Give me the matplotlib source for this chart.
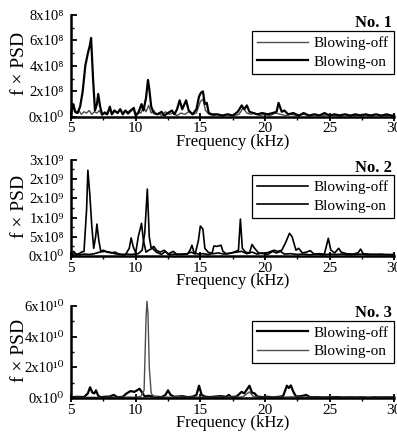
import numpy as np
import matplotlib
matplotlib.use('Agg')
import matplotlib.pyplot as plt
from matplotlib.ticker import MultipleLocator

plt.rcParams['font.family'] = ['Liberation Serif', 'DejaVu Serif']

# 数据 (频率 kHz, 幅值)
# No.1, 单位 1e8
f1_off = [5.0, 5.2, 5.4, 5.6, 5.8, 6.0, 6.2, 6.4, 6.6, 6.8, 7.0, 7.2, 7.4, 7.6, 7.8, 8.0, 8.2, 8.4, 8.6, 8.8,
          9.0, 9.2, 9.4, 9.6, 9.8, 10.0, 10.2, 10.4, 10.6, 10.8, 11.0, 11.2, 11.4, 11.6, 11.8, 12.0, 12.3, 12.6,
          12.9, 13.2, 13.5, 13.8, 14.1, 14.4, 14.7, 15.0, 15.2, 15.4, 15.7, 16.0, 16.4, 16.8, 17.2, 17.6, 18.0,
          18.3, 18.6, 18.9, 19.2, 19.6, 20.0, 20.4, 20.8, 21.2, 21.6, 22.0, 22.5, 23.0, 23.5, 24.0, 24.5, 25.0,
          25.5, 26.0, 26.5, 27.0, 27.5, 28.0, 28.5, 29.0, 29.5, 30.0]
p1_off = [0.5, 1.0, 0.3, 0.5, 0.2, 0.4, 0.3, 0.5, 0.2, 0.4, 0.3, 0.5, 0.1, 0.4, 0.3, 0.6, 0.2, 0.5, 0.3, 0.6,
          0.3, 0.5, 0.2, 0.4, 0.6, 0.2, 0.4, 0.3, 0.8, 0.4, 0.9, 0.3, 0.5, 0.2, 0.3, 0.1, 0.4, 0.2,
          0.3, 0.1, 0.3, 0.2, 0.4, 0.2, 0.3, 1.2, 1.4, 0.5, 0.2, 0.1, 0.2, 0.1, 0.2, 0.1, 0.2,
          0.7, 0.3, 0.2, 0.3, 0.1, 0.2, 0.1, 0.3, 0.2, 0.1, 0.2, 0.1, 0.2, 0.1, 0.2, 0.1, 0.2,
          0.1, 0.2, 0.1, 0.1, 0.2, 0.1, 0.2, 0.1, 0.1, 0.1]
f1_on = [5.0, 5.15, 5.3, 5.5, 5.7, 5.9, 6.1, 6.3, 6.45, 6.55, 6.7, 6.85, 7.0, 7.1, 7.25, 7.4, 7.6, 7.8, 8.0,
         8.15, 8.35, 8.6, 8.8, 9.0, 9.2, 9.4, 9.6, 9.85, 10.0, 10.2, 10.45, 10.6, 10.8, 10.95, 11.05, 11.2,
         11.4, 11.7, 12.0, 12.2, 12.5, 12.8, 13.0, 13.2, 13.4, 13.6, 13.9, 14.1, 14.4, 14.7, 14.9, 15.05,
         15.2, 15.35, 15.5, 15.65, 15.9, 16.3, 16.7, 17.1, 17.5, 17.9, 18.2, 18.4, 18.6, 18.8, 19.1, 19.4,
         19.8, 20.2, 20.6, 20.9, 21.05, 21.3, 21.5, 21.8, 22.2, 22.6, 23.0, 23.4, 23.8, 24.2, 24.6, 25.0,
         25.4, 25.8, 26.2, 26.6, 27.0, 27.4, 27.8, 28.2, 28.6, 29.0, 29.4, 29.8, 30.0]
p1_on = [0.3, 1.0, 0.4, 0.3, 0.8, 2.0, 4.0, 5.0, 5.6, 6.2, 3.0, 0.5, 1.0, 1.8, 0.8, 0.2, 0.3, 0.2, 0.8,
         0.2, 0.5, 0.3, 0.6, 0.2, 0.5, 0.3, 0.5, 0.7, 0.1, 0.3, 1.0, 0.5, 1.5, 2.9, 2.2, 0.8,
         0.3, 0.2, 0.4, 0.1, 0.3, 0.5, 0.2, 0.6, 1.3, 0.6, 1.3, 0.5, 0.2, 0.6, 1.6, 1.9,
         2.0, 1.0, 1.1, 0.3, 0.2, 0.2, 0.1, 0.2, 0.1, 0.4, 0.9, 0.6, 0.9, 0.4, 0.3, 0.2,
         0.3, 0.2, 0.3, 0.4, 1.1, 0.4, 0.5, 0.2, 0.3, 0.1, 0.3, 0.1, 0.2, 0.1, 0.3, 0.1,
         0.2, 0.1, 0.2, 0.1, 0.2, 0.1, 0.2, 0.1, 0.2, 0.1, 0.2, 0.1, 0.1]

# No.2, 单位 1e9
f2_off = [5.0, 5.3, 5.6, 6.0, 6.4, 6.8, 7.2, 7.6, 8.0, 8.4, 8.8, 9.2, 9.5, 9.65, 9.8, 10.0, 10.2, 10.45, 10.6,
          10.8, 11.0, 11.3, 11.6, 12.0, 12.3, 12.6, 13.0, 13.5, 14.0, 14.2, 14.35, 14.5, 14.8, 15.2, 15.6,
          15.9, 16.05, 16.3, 16.6, 16.75, 17.0, 17.4, 17.8, 18.2, 18.6, 19.0, 19.4, 19.8, 20.2, 20.6, 20.9,
          21.2, 21.5, 22.0, 22.5, 23.0, 23.5, 24.0, 24.5, 25.0, 25.5, 26.0, 26.5, 27.0, 27.5, 28.0, 28.5,
          29.0, 29.5, 30.0]
p2_off = [0.02, 0.06, 0.03, 0.05, 0.04, 0.06, 0.1, 0.12, 0.1, 0.06, 0.04, 0.03, 0.2, 0.47, 0.25, 0.08, 0.5, 0.85, 0.4,
          0.1, 0.15, 0.2, 0.1, 0.04, 0.12, 0.03, 0.05, 0.04, 0.05, 0.15, 0.28, 0.1, 0.05, 0.06, 0.04,
          0.06, 0.26, 0.25, 0.28, 0.12, 0.06, 0.08, 0.1, 0.12, 0.06, 0.1, 0.05, 0.08, 0.04, 0.12, 0.08,
          0.12, 0.05, 0.06, 0.04, 0.05, 0.03, 0.05, 0.03, 0.05, 0.04, 0.05, 0.03, 0.04, 0.05, 0.03, 0.04,
          0.03, 0.04, 0.03]
f2_on = [5.0, 5.2, 5.4, 5.6, 5.8, 6.0, 6.2, 6.3, 6.45, 6.6, 6.75, 6.9, 7.0, 7.15, 7.3, 7.5, 7.8, 8.1, 8.4,
         8.7, 9.0, 9.3, 9.6, 9.9, 10.2, 10.5, 10.7, 10.9, 11.05, 11.2, 11.4, 11.6, 11.9, 12.2, 12.5, 12.9,
         13.2, 13.6, 14.0, 14.3, 14.6, 14.85, 15.0, 15.2, 15.35, 15.6, 16.0, 16.4, 16.8, 17.2, 17.6, 17.95,
         18.1, 18.25, 18.5, 18.8, 19.0, 19.2, 19.5, 19.9, 20.3, 20.7, 21.0, 21.3, 21.6, 21.9, 22.1, 22.4,
         22.6, 22.9, 23.2, 23.5, 23.8, 24.2, 24.6, 24.9, 25.1, 25.4, 25.7, 25.9, 26.3, 26.8, 27.2, 27.4,
         27.6, 28.0, 28.5, 29.0, 29.5, 30.0]
p2_on = [0.05, 0.12, 0.04, 0.06, 0.1, 0.12, 1.2, 2.23, 1.6, 0.8, 0.2, 0.5, 0.83, 0.4, 0.12, 0.15, 0.1, 0.08, 0.1,
         0.05, 0.04, 0.05, 0.04, 0.05, 0.06, 0.15, 0.6, 1.74, 0.5, 0.2, 0.25, 0.15, 0.1, 0.15, 0.05, 0.12,
         0.04, 0.05, 0.06, 0.1, 0.05, 0.4, 0.78, 0.7, 0.2, 0.1, 0.06, 0.08, 0.05, 0.06, 0.1, 0.15,
         0.96, 0.2, 0.1, 0.08, 0.3, 0.2, 0.08, 0.06, 0.1, 0.15, 0.12, 0.15, 0.35, 0.59, 0.5, 0.15,
         0.2, 0.08, 0.1, 0.14, 0.05, 0.06, 0.05, 0.46, 0.15, 0.08, 0.2, 0.1, 0.06, 0.05, 0.08, 0.18,
         0.06, 0.05, 0.04, 0.05, 0.03, 0.04]

# No.3, 单位 1e10
f3_off = [5.0, 5.5, 6.0, 6.3, 6.47, 6.65, 6.8, 6.93, 7.1, 7.3, 7.6, 8.0, 8.3, 8.6, 9.0, 9.3, 9.6, 9.9, 10.1,
          10.3, 10.5, 10.7, 11.0, 11.3, 11.6, 12.0, 12.3, 12.5, 12.7, 13.0, 13.3, 13.6, 14.0, 14.4, 14.7,
          14.9, 15.1, 15.4, 15.8, 16.2, 16.6, 17.0, 17.2, 17.4, 17.8, 18.0, 18.2, 18.4, 18.6, 18.8, 19.0,
          19.2, 19.4, 19.8, 20.2, 20.6, 21.0, 21.4, 21.7, 21.85, 22.0, 22.2, 22.4, 22.8, 23.2, 23.5, 24.0,
          24.5, 25.0, 25.5, 26.0, 26.5, 27.0, 27.5, 28.0, 28.5, 29.0, 29.5, 30.0]
p3_off = [0.05, 0.08, 0.06, 0.3, 0.7, 0.35, 0.3, 0.5, 0.15, 0.05, 0.08, 0.1, 0.2, 0.05, 0.08, 0.3, 0.45, 0.4, 0.5,
          0.6, 0.35, 0.1, 0.15, 0.1, 0.08, 0.06, 0.2, 0.5, 0.2, 0.08, 0.1, 0.12, 0.06, 0.08, 0.2,
          0.8, 0.2, 0.08, 0.06, 0.1, 0.12, 0.08, 0.2, 0.06, 0.1, 0.25, 0.4, 0.3, 0.55, 0.8, 0.35,
          0.3, 0.1, 0.06, 0.08, 0.05, 0.07, 0.12, 0.8, 0.65, 0.82, 0.4, 0.1, 0.12, 0.2, 0.05, 0.06,
          0.04, 0.05, 0.06, 0.04, 0.05, 0.04, 0.05, 0.03, 0.05, 0.04, 0.05, 0.04]
f3_on = [5.0, 5.5, 6.0, 6.5, 7.0, 7.5, 8.0, 8.5, 9.0, 9.5, 10.0, 10.4, 10.65, 10.8, 10.87, 10.95, 11.05, 11.2,
         11.4, 11.8, 12.3, 12.8, 13.3, 13.8, 14.3, 14.8, 15.3, 15.8, 16.3, 16.8, 17.3, 17.8, 18.3, 18.8,
         19.1, 19.6, 20.1, 20.6, 21.1, 21.6, 22.1, 22.6, 23.1, 23.6, 24.1, 24.6, 25.1, 25.6, 26.1, 26.6,
         27.1, 27.6, 28.1, 28.6, 29.1, 29.6, 30.0]
p3_on = [0.02, 0.05, 0.03, 0.05, 0.04, 0.03, 0.05, 0.04, 0.05, 0.06, 0.05, 0.1, 0.5, 5.2, 6.3, 5.5, 2.0, 0.3,
         0.1, 0.05, 0.06, 0.05, 0.08, 0.04, 0.05, 0.06, 0.05, 0.04, 0.06, 0.05, 0.06, 0.05, 0.08, 0.4,
         0.1, 0.05, 0.04, 0.06, 0.05, 0.06, 0.08, 0.05, 0.06, 0.04, 0.05, 0.04, 0.05, 0.03, 0.05, 0.04,
         0.03, 0.05, 0.03, 0.04, 0.03, 0.04, 0.03]

# y 轴刻度
yt1 = [0, 2e8, 4e8, 6e8, 8e8]
yl1 = ['0x10⁰', '2x10⁸', '4x10⁸', '6x10⁸', '8x10⁸']
yt2 = [0, 0.5e9, 1.0e9, 1.5e9, 2.0e9, 2.5e9]
yl2 = ['0x10⁰', '5x10⁸', '1x10⁹', '2x10⁹', '2x10⁹', '3x10⁹']
yt3 = [0, 2e10, 4e10, 6e10]
yl3 = ['0x10⁰', '2x10¹⁰', '4x10¹⁰', '6x10¹⁰']

W, H = 397, 441
fig = plt.figure(figsize=(W / 100, H / 100), dpi=100, facecolor='white')


def panel(rect, f_off, p_off, f_on, p_on, scale, yt, yl, ymax, title, off_style, on_style):
    ax = fig.add_axes(rect)
    ax.plot(f_off, np.array(p_off) * scale, label='Blowing-off', clip_on=False, **off_style)
    ax.plot(f_on, np.array(p_on) * scale, label='Blowing-on', clip_on=False, **on_style)
    ax.set_xlim(5, 30)
    ax.set_ylim(0, ymax)
    ax.set_xticks([5, 10, 15, 20, 25, 30])
    ax.xaxis.set_minor_locator(MultipleLocator(2.5))
    ax.set_yticks(yt, yl)
    ax.yaxis.set_minor_locator(MultipleLocator(yt[1] / 2))
    for s in ['top', 'right']:
        ax.spines[s].set_visible(False)
    for s in ['left', 'bottom']:
        ax.spines[s].set_linewidth(1.8)
    ax.tick_params(axis='y', which='major', direction='in', length=4, width=1.3, labelsize=10.5, pad=5)
    ax.tick_params(axis='y', which='minor', direction='in', length=2.5, width=1.0)
    ax.tick_params(axis='x', which='major', direction='inout', length=6, width=1.3, labelsize=11, pad=1)
    ax.tick_params(axis='x', which='minor', direction='out', length=2.5, width=1.0)
    ax.set_xlabel('Frequency (kHz)', fontsize=12, labelpad=-1)
    ax.set_ylabel('f × PSD', fontsize=14)
    ax.yaxis.set_label_coords(-0.133, 0.52)
    ax.text(0.994, 0.92, title, transform=ax.transAxes, ha='right', va='center',
            fontsize=12, fontweight='bold')
    leg = ax.legend(loc='upper right', bbox_to_anchor=(1.0, 0.84), fontsize=11, frameon=True,
                    fancybox=False, framealpha=1, edgecolor='black', handlelength=3.3,
                    handletextpad=0.4, labelspacing=0.3, borderpad=0.35, borderaxespad=0)
    leg.get_frame().set_linewidth(0.9)
    return ax


thin = dict(color='0.3', lw=1.0)
thick = dict(color='black', lw=1.6)
mid = dict(color='black', lw=1.2)

panel([0.179, 0.735, 0.814, 0.231], f1_off, p1_off, f1_on, p1_on, 1e8, yt1, yl1, 8e8, 'No. 1', thin, thick)
panel([0.179, 0.4195, 0.814, 0.218], f2_off, p2_off, f2_on, p2_on, 1e9, yt2, yl2, 2.5e9, 'No. 2', mid, mid)
panel([0.179, 0.0975, 0.814, 0.209], f3_off, p3_off, f3_on, p3_on, 1e10, yt3, yl3, 6e10, 'No. 3', thick, thin)

fig.savefig('out.png', dpi=100)
